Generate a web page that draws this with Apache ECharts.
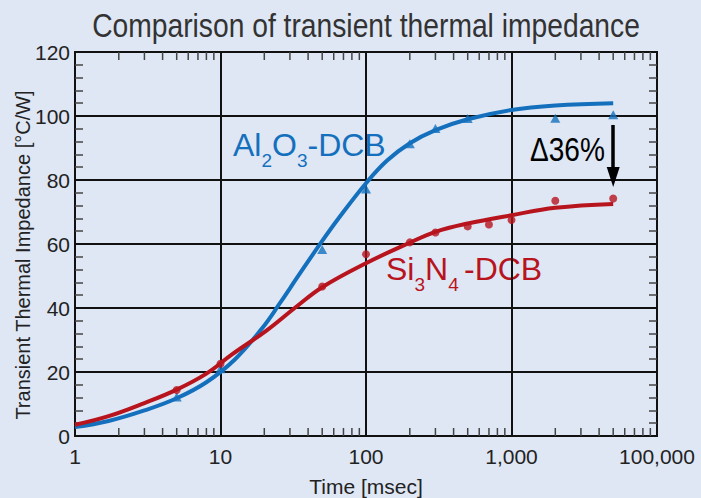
<!DOCTYPE html>
<html><head><meta charset="utf-8">
<script src="https://cdn.jsdelivr.net/npm/echarts@6/dist/echarts.min.js"></script>
<style>html,body{margin:0;padding:0;background:#dfe7f4;}#c{width:701px;height:498px;}</style>
</head><body><div id="c"></div>
<script>
// ---- data ----
const xTickLabels = ['1', '10', '100', '1,000', '100,000'];
const alTime  = [5, 10, 50, 100, 200, 300, 500, 2000, 5000];
const alValue = [12.2, 21, 58.3, 77.2, 91.3, 96.1, 99.2, 99.3, 100.4];
const siTime  = [5, 10, 50, 100, 200, 300, 500, 700, 1000, 2000, 5000];
const siValue = [14.4, 22.6, 46.7, 56.8, 60.5, 63.6, 65.5, 66.1, 67.5, 73.5, 74.2];
const alCurveTime  = [1, 1.7, 3, 5, 8, 12.6, 19.2, 25.6, 33.4, 48, 66, 100, 139, 200, 300, 500, 1000, 2000, 5000];
const alCurveValue = [2.8, 4.7, 8.0, 11.8, 16.8, 24, 33.5, 41.5, 49.3, 59.8, 68.5, 79, 86, 91.5, 95.6, 99, 101.9, 103.3, 104];
const siCurveTime  = [1, 1.7, 3, 5, 8, 12, 20.8, 33, 50, 100, 200, 300, 500, 1000, 2000, 5000];
const siCurveValue = [3.5, 6.2, 10.3, 14.5, 19.5, 25.5, 33, 40.3, 46.5, 54, 60.4, 63.8, 66.4, 69, 71.3, 72.5];
const arrowTime = 5000;
const arrowFrom = 97.2, arrowTo = 80.9;

const BLUE = '#1470bd', RED = '#b8141e', GRID = '#111';
const SANS = "'Liberation Sans',Arial,sans-serif";

const minorTickValues = [];
for (let d = 1; d < 10000; d *= 10) for (let k = 2; k <= 9; k++) minorTickValues.push(d * k);

const chart = echarts.init(document.getElementById('c'), null, {renderer: 'svg'});
chart.setOption({
  animation: false,
  backgroundColor: '#dfe7f4',
  grid: {left: 75, right: 44, top: 52, bottom: 62, containLabel: false, outerBoundsMode: 'none',
    show: true, borderColor: GRID, borderWidth: 2, backgroundColor: 'transparent'},
  xAxis: {
    type: 'log', logBase: 10, min: 1, max: 10000,
    axisLine: {show: false}, axisTick: {show: false},
    splitLine: {show: true, lineStyle: {color: GRID, width: 2}},
    axisLabel: {fontFamily: SANS, fontSize: 21, color: '#222', margin: 10,
      formatter: (v, i) => xTickLabels[i]},
    name: 'Time [msec]', nameLocation: 'middle', nameGap: 40, nameMoveOverlap: false,
    nameTextStyle: {fontFamily: SANS, fontSize: 21, color: '#222'}
  },
  yAxis: [{
    type: 'value', min: 0, max: 120, interval: 20,
    axisLine: {show: false}, axisTick: {show: false, inside: true},
    minorTick: {show: true, splitNumber: 5, length: 8, lineStyle: {color: '#444', width: 1.5}},
    splitLine: {show: true, lineStyle: {color: GRID, width: 2}},
    axisLabel: {fontFamily: SANS, fontSize: 21, color: '#222', margin: 5},
    name: 'Transient Thermal Impedance [°C/W]', nameLocation: 'middle', nameGap: 42, nameMoveOverlap: false,
    nameTextStyle: {fontFamily: SANS, fontSize: 20, color: '#222', padding: [0, 22, 0, 0]}
  }, {
    type: 'value', min: 0, max: 120, interval: 20, position: 'right',
    axisLine: {show: false}, axisTick: {show: false, inside: true},
    minorTick: {show: true, splitNumber: 5, length: 8, lineStyle: {color: '#444', width: 1.5}},
    splitLine: {show: false}, axisLabel: {show: false}
  }],
  series: [
    {
      type: 'custom', silent: true, z: 1,
      data: minorTickValues.map(v => [v, 0]),
      renderItem: (params, api) => {
        const x = api.coord([api.value(0), 0])[0];
        const cs = params.coordSys;
        const st = {stroke: '#444', lineWidth: 1.5};
        return {type: 'group', children: [
          {type: 'line', shape: {x1: x, y1: cs.y + cs.height, x2: x, y2: cs.y + cs.height - 8}, style: st},
          {type: 'line', shape: {x1: x, y1: cs.y, x2: x, y2: cs.y + 8}, style: st}
        ]};
      }
    },
    {
      type: 'line', smooth: 0.4, showSymbol: false, z: 3,
      data: alCurveTime.map((t, i) => [t, alCurveValue[i]]),
      lineStyle: {color: BLUE, width: 4}
    },
    {
      type: 'line', smooth: 0.4, showSymbol: false, z: 3,
      data: siCurveTime.map((t, i) => [t, siCurveValue[i]]),
      lineStyle: {color: RED, width: 4},
      markLine: {
        silent: true, symbol: ['none', 'triangle'], symbolSize: [13, 20],
        label: {show: false},
        lineStyle: {color: '#000', width: 3.5, type: 'solid'},
        data: [[{coord: [arrowTime, arrowFrom]}, {coord: [arrowTime, arrowTo]}]]
      }
    },
    {
      type: 'scatter', symbol: 'triangle', symbolSize: [10, 9], z: 4,
      itemStyle: {color: BLUE},
      data: alTime.map((t, i) => [t, alValue[i]])
    },
    {
      type: 'scatter', symbol: 'circle', symbolSize: 8, z: 4,
      itemStyle: {color: RED},
      data: siTime.map((t, i) => [t, siValue[i]])
    }
  ],
  graphic: [
    {type: 'text', x: 366, y: 26, scaleX: 0.856, style: {text: 'Comparison of transient thermal impedance',
      fontFamily: SANS, fontSize: 33, fill: '#333', textAlign: 'center', textVerticalAlign: 'middle'}},
    {type: 'text', x: 233, y: 145, style: {text: '{a|Al}{s|2}{a|O}{s|3}{a|-DCB}', textAlign: 'left', textVerticalAlign: 'middle', fill: BLUE,
      rich: {a: {fontFamily: SANS, fontSize: 32, lineHeight: 50, fill: BLUE}, s: {fontFamily: SANS, fontSize: 19, lineHeight: 4, verticalAlign: 'bottom', fill: BLUE}}}},
    {type: 'text', x: 386, y: 269, style: {text: '{a|Si}{s|3}{a|N}{s|4 }{a|-DCB}', textAlign: 'left', textVerticalAlign: 'middle', fill: RED,
      rich: {a: {fontFamily: SANS, fontSize: 32, lineHeight: 50, fill: RED}, s: {fontFamily: SANS, fontSize: 19, lineHeight: 4, verticalAlign: 'bottom', fill: RED}}}},
    {type: 'text', x: 530, y: 149, scaleX: 0.85, style: {text: 'Δ36%', fontFamily: SANS, fontSize: 33, fill: '#000', textAlign: 'left', textVerticalAlign: 'middle'}}
  ]
});
</script></body></html>
